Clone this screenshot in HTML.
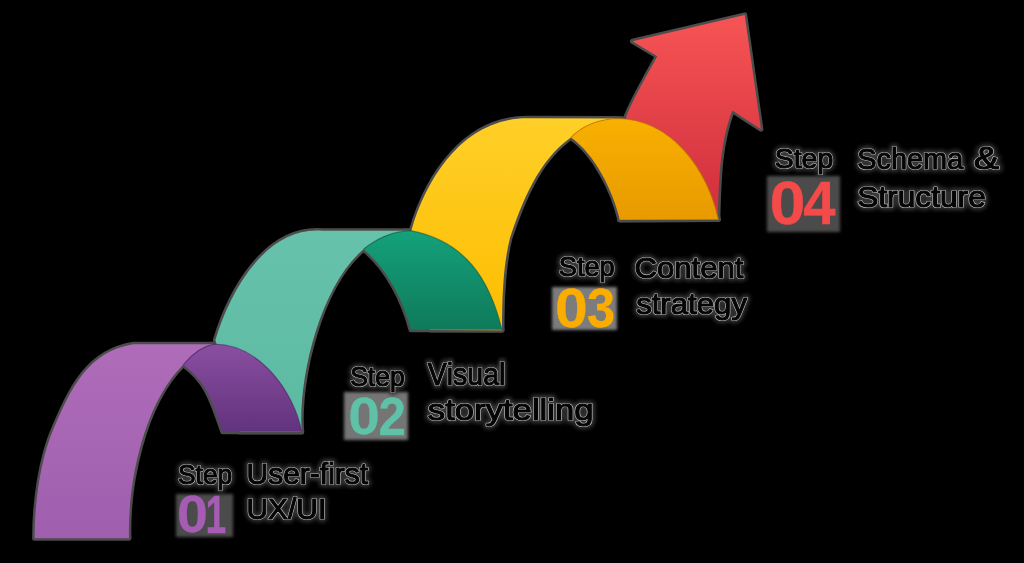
<!DOCTYPE html>
<html><head><meta charset="utf-8">
<style>
html,body{margin:0;padding:0;background:#000;width:1024px;height:563px;overflow:hidden}
svg{display:block;will-change:transform}
text{font-family:"Liberation Sans",sans-serif;font-kerning:none}
.wo{fill:#303030;stroke:#383838;stroke-width:6px;stroke-linejoin:round;filter:url(#glow)}
.wl{fill:none;stroke:#c0c0c0;stroke-width:2.2px;stroke-linejoin:round}
.w{fill:#050505;stroke:#050505;stroke-width:1.1px;stroke-linejoin:round}
.d{font-weight:bold;stroke-linejoin:round}
</style></head>
<body>
<svg width="1024" height="563" viewBox="0 0 1024 563">
<defs>
<linearGradient id="gP" x1="0" y1="0" x2="0" y2="1"><stop offset="0" stop-color="#ae6cb9"/><stop offset="1" stop-color="#a05fae"/></linearGradient>
<linearGradient id="gPd" x1="0" y1="0" x2="0" y2="1"><stop offset="0" stop-color="#8a4ea0"/><stop offset="1" stop-color="#62337e"/></linearGradient>
<linearGradient id="gT" x1="0" y1="0" x2="0" y2="1"><stop offset="0" stop-color="#67c2ab"/><stop offset="1" stop-color="#5cb9a2"/></linearGradient>
<linearGradient id="gTd" x1="0" y1="0" x2="0" y2="1"><stop offset="0" stop-color="#14a17b"/><stop offset="1" stop-color="#0f7a5a"/></linearGradient>
<linearGradient id="gY" x1="0" y1="0" x2="0" y2="1"><stop offset="0" stop-color="#ffcf28"/><stop offset="1" stop-color="#fdbd00"/></linearGradient>
<linearGradient id="gYd" x1="0" y1="0" x2="0" y2="1"><stop offset="0" stop-color="#f8b000"/><stop offset="1" stop-color="#e89a00"/></linearGradient>
<linearGradient id="gR" x1="0" y1="0" x2="0" y2="1"><stop offset="0" stop-color="#f65454"/><stop offset="1" stop-color="#cf2e3c"/></linearGradient>
<filter id="soft" x="-10%" y="-10%" width="120%" height="120%"><feGaussianBlur stdDeviation="1.5"/></filter>
<filter id="glow" x="-20%" y="-40%" width="140%" height="180%"><feGaussianBlur stdDeviation="2"/></filter>
</defs>

<!-- halos -->
<g fill="none" stroke="#a8a8a8" stroke-width="5" stroke-linejoin="round" opacity="0.45">
<use href="#pR"/><use href="#pY"/><use href="#pYd"/><use href="#pT"/><use href="#pTd"/><use href="#pP"/><use href="#pPd"/>
</g>
<g id="shapes">
<path id="pR" d="M619.5,220 L626.4,116 C634.5,96.1 647,75.3 657.3,56.2 L632.4,41.3 L744.7,14.9 L760.9,129.2 L732.3,110.6 C719,145.7 719,182 717.8,219.5 Z" fill="url(#gR)"/>
<path id="pY" d="M430,330 L411.5,230 C427.1,175.8 465.1,117.6 528,118.3 L617,118.5 C595,119.5 580,128 570.9,137.5 C538.6,160 522,202 510,238 C504,262 502,290 502,330.3 Z" fill="url(#gY)"/>
<path id="pYd" d="M570.9,137.5 C580,128 595,119.5 617,118.5 C672,119 707.5,169.7 718.5,219.6 L619.8,219.8 C613.5,192 595,154 570.9,137.5 Z" fill="url(#gYd)"/>
<path id="pT" d="M240,432 L215.4,340 C229.3,293.5 264.4,226.6 322,230.7 L410.7,230.7 C390,231.5 375,240 363.5,249.3 C320,285.6 297.8,379.1 301.7,432 Z" fill="url(#gT)"/>
<path id="pTd" d="M363.5,249.3 C375,240 390,231.5 410.7,230.7 C465,241.3 489.3,278.5 502,329.8 L411,329.8 C403,300 387.5,269 363.5,249.3 Z" fill="url(#gTd)"/>
<path id="pP" d="M34.6,538.2 C34.6,503.2 40.3,458.6 54.5,426.6 C71.1,388.4 87.7,351.5 133.4,344.2 L214,344.2 C202,346.5 192,354 183.2,364.8 C143.2,404.2 127.3,484.9 129,538.2 Z" fill="url(#gP)"/>
<path id="pPd" d="M183.2,364.8 C192,354 202,346.5 214,344.2 C260,344.2 294.2,392.4 301.7,431.8 L222.8,431.8 C213,405 208.5,383 183.2,364.8 Z" fill="url(#gPd)"/>
</g>
<g fill="none" stroke-width="1.2" opacity="0.6">
<path d="M183.2,364.8 C192,354 202,346.5 214,344.2 C260,344.2 294.2,392.4 301.7,431.8" stroke="#4e2466"/>
<path d="M363.5,249.3 C375,240 390,231.5 410.7,230.7 C465,241.3 489.3,278.5 502,329.8" stroke="#0a5e44"/>
<path d="M570.9,137.5 C580,128 595,119.5 617,118.5 C672,119 707.5,169.7 718.5,219.6" stroke="#b86f00"/>
</g>

<!-- textblocks -->
<g filter="url(#soft)">
<rect x="176" y="494" width="57" height="43" fill="#4c4c4c"/>
<rect x="344" y="392" width="64" height="48" fill="#747474"/>
<rect x="552" y="287" width="65" height="43" fill="#7c7c7c"/>
<rect x="767" y="176" width="73" height="56" fill="#4c4c4c"/>
</g>
<!-- texts -->
<text class="wo" transform="translate(178.00,484.10) scale(0.9435,1)" style="font-size:27.93px">Step</text>
<text class="wl" transform="translate(178.00,484.10) scale(0.9435,1)" style="font-size:27.93px">Step</text>
<text class="w" transform="translate(178.00,484.10) scale(0.9435,1)" style="font-size:27.93px">Step</text>
<text class="wo" transform="translate(246.48,483.60) scale(1.0026,1)" style="font-size:29.94px">User-first</text>
<text class="wl" transform="translate(246.48,483.60) scale(1.0026,1)" style="font-size:29.94px">User-first</text>
<text class="w" transform="translate(246.48,483.60) scale(1.0026,1)" style="font-size:29.94px">User-first</text>
<text class="wo" transform="translate(246.49,519.40) scale(1.0087,1)" style="font-size:29.65px">UX/UI</text>
<text class="wl" transform="translate(246.49,519.40) scale(1.0087,1)" style="font-size:29.65px">UX/UI</text>
<text class="w" transform="translate(246.49,519.40) scale(1.0087,1)" style="font-size:29.65px">UX/UI</text>
<text class="wo" transform="translate(350.20,385.50) scale(0.9670,1)" style="font-size:27.35px">Step</text>
<text class="wl" transform="translate(350.20,385.50) scale(0.9670,1)" style="font-size:27.35px">Step</text>
<text class="w" transform="translate(350.20,385.50) scale(0.9670,1)" style="font-size:27.35px">Step</text>
<text class="wo" transform="translate(427.77,384.90) scale(0.9294,1)" style="font-size:30.67px">Visual</text>
<text class="wl" transform="translate(427.77,384.90) scale(0.9294,1)" style="font-size:30.67px">Visual</text>
<text class="w" transform="translate(427.77,384.90) scale(0.9294,1)" style="font-size:30.67px">Visual</text>
<text class="wo" transform="translate(427.83,419.60) scale(1.1637,1)" style="font-size:29.81px">storytelling</text>
<text class="wl" transform="translate(427.83,419.60) scale(1.1637,1)" style="font-size:29.81px">storytelling</text>
<text class="w" transform="translate(427.83,419.60) scale(1.1637,1)" style="font-size:29.81px">storytelling</text>
<text class="wo" transform="translate(558.76,276.20) scale(0.9896,1)" style="font-size:27.50px">Step</text>
<text class="wl" transform="translate(558.76,276.20) scale(0.9896,1)" style="font-size:27.50px">Step</text>
<text class="w" transform="translate(558.76,276.20) scale(0.9896,1)" style="font-size:27.50px">Step</text>
<text class="wo" transform="translate(634.42,278.40) scale(1.0309,1)" style="font-size:30.22px">Content</text>
<text class="wl" transform="translate(634.42,278.40) scale(1.0309,1)" style="font-size:30.22px">Content</text>
<text class="w" transform="translate(634.42,278.40) scale(1.0309,1)" style="font-size:30.22px">Content</text>
<text class="wo" transform="translate(636.13,313.80) scale(1.0339,1)" style="font-size:30.16px">strategy</text>
<text class="wl" transform="translate(636.13,313.80) scale(1.0339,1)" style="font-size:30.16px">strategy</text>
<text class="w" transform="translate(636.13,313.80) scale(1.0339,1)" style="font-size:30.16px">strategy</text>
<text class="wo" transform="translate(774.71,168.00) scale(1.0128,1)" style="font-size:28.07px">Step</text>
<text class="wl" transform="translate(774.71,168.00) scale(1.0128,1)" style="font-size:28.07px">Step</text>
<text class="w" transform="translate(774.71,168.00) scale(1.0128,1)" style="font-size:28.07px">Step</text>
<text class="wo" transform="translate(857.29,168.60) scale(0.9563,1)" style="font-size:30.22px">Schema</text>
<text class="wl" transform="translate(857.29,168.60) scale(0.9563,1)" style="font-size:30.22px">Schema</text>
<text class="w" transform="translate(857.29,168.60) scale(0.9563,1)" style="font-size:30.22px">Schema</text>
<text class="wo" transform="translate(973.66,168.60) scale(1.2452,1)" style="font-size:30.50px">&amp;</text>
<text class="wl" transform="translate(973.66,168.60) scale(1.2452,1)" style="font-size:30.50px">&amp;</text>
<text class="w" transform="translate(973.66,168.60) scale(1.2452,1)" style="font-size:30.50px">&amp;</text>
<text class="wo" transform="translate(857.16,206.90) scale(1.0907,1)" style="font-size:29.07px">Structure</text>
<text class="wl" transform="translate(857.16,206.90) scale(1.0907,1)" style="font-size:29.07px">Structure</text>
<text class="w" transform="translate(857.16,206.90) scale(1.0907,1)" style="font-size:29.07px">Structure</text>
<text class="d" transform="translate(176.94,532.27) scale(0.5556,0.5147)" style="font-size:100px;fill:#a55cb3;stroke:#a55cb3;stroke-width:0.5px">0</text>
<text class="d" transform="translate(205.54,532.87) scale(0.3742,0.5339)" style="font-size:100px;fill:#a55cb3;stroke:#a55cb3;stroke-width:0.5px">1</text>
<text class="d" transform="translate(348.20,434.27) scale(0.5681,0.5133)" style="font-size:100px;fill:#5fc1a7;stroke:#5fc1a7;stroke-width:0.5px">0</text>
<text class="d" transform="translate(378.41,435.27) scale(0.4934,0.5318)" style="font-size:100px;fill:#5fc1a7;stroke:#5fc1a7;stroke-width:0.5px">2</text>
<text class="d" transform="translate(555.02,327.22) scale(0.5889,0.5554)" style="font-size:100px;fill:#fbac00;stroke:#fbac00;stroke-width:0.5px">0</text>
<text class="d" transform="translate(586.97,327.23) scale(0.5059,0.5599)" style="font-size:100px;fill:#fbac00;stroke:#fbac00;stroke-width:0.5px">3</text>
<text class="d" transform="translate(769.50,223.56) scale(0.6471,0.6073)" style="font-size:100px;fill:#f44a4a;stroke:#f44a4a;stroke-width:0.5px">0</text>
<text class="d" transform="translate(803.27,223.55) scale(0.5808,0.6090)" style="font-size:100px;fill:#f44a4a;stroke:#f44a4a;stroke-width:0.5px">4</text>
</svg>
</body></html>
